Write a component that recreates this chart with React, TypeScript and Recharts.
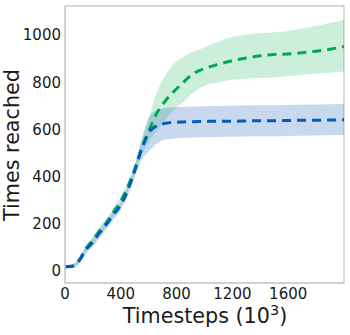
import { ComposedChart, Area, Line, XAxis, YAxis, Label } from 'recharts';

const steps = [0, 50, 100, 150, 200, 250, 300, 350, 400, 450, 500, 550, 600, 650, 700, 750, 800, 850, 900, 1000, 1100, 1200, 1300, 1400, 1500, 1600, 1700, 1800, 1900, 2000];

const blueMean = [15, 17, 40, 88, 120, 160, 198, 238, 278, 340, 424, 515, 585, 612, 622, 628, 630, 631, 632, 633, 634, 634, 635, 636, 636, 637, 638, 638, 639, 640];
const blueLow = [8, 10, 26, 70, 100, 140, 178, 218, 258, 318, 396, 470, 505, 535, 552, 558, 562, 564, 565, 566, 567, 568, 569, 570, 570, 571, 572, 573, 574, 575];
const blueHigh = [22, 24, 50, 100, 135, 175, 212, 252, 292, 358, 445, 560, 650, 678, 688, 692, 694, 695, 696, 698, 699, 700, 701, 702, 702, 703, 704, 705, 706, 708];

const greenMean = [15, 17, 42, 92, 128, 170, 205, 250, 295, 355, 430, 520, 590, 660, 705, 742, 772, 800, 828, 858, 876, 892, 903, 912, 918, 920, 925, 932, 940, 952];
const greenLow = [8, 10, 30, 78, 110, 152, 188, 232, 276, 336, 410, 495, 545, 590, 622, 660, 695, 715, 745, 785, 800, 810, 815, 818, 820, 826, 832, 836, 840, 845];
const greenHigh = [22, 24, 52, 106, 145, 188, 222, 268, 314, 374, 450, 548, 640, 745, 810, 858, 888, 908, 925, 948, 973, 992, 1002, 1008, 1012, 1018, 1028, 1040, 1052, 1066];

const xTicks = [0, 400, 800, 1200, 1600];
const yTicks = [0, 200, 400, 600, 800, 1000];

const data = steps.map((t, i) => ({
  t,
  blue: blueMean[i],
  blueBand: [blueLow[i], blueHigh[i]],
  green: greenMean[i],
  greenBand: [greenLow[i], greenHigh[i]],
}));

const FONT = 'DejaVu Sans';
const TEXT = '#1a1a1a';

export default function App() {
  return (
    <div style={{ position: 'absolute', left: 0, top: 0, background: '#fff' }}>
      <ComposedChart width={350} height={335} data={data} margin={{ top: 6, right: 6, left: 0, bottom: 0 }}>
        <rect x={65} y={6} width={279} height={277} fill="none" stroke="#cccccc" strokeWidth={1.5} />
        <XAxis
          dataKey="t"
          type="number"
          domain={[0, 2000]}
          ticks={xTicks}
          allowDataOverflow
          height={52}
          axisLine={{ stroke: '#cccccc', strokeWidth: 1.5 }}
          tickLine={false}
          tickSize={2}
          tickMargin={3}
          tick={{ fontFamily: FONT, fontSize: 15, fill: TEXT }}
        >
          <Label
            content={() => (
              <text x={205} y={323} textAnchor="middle" fontFamily={FONT} fontSize={20.7} fill={TEXT}>
                Timesteps (10
                <tspan dy={-8} fontSize={14.5}>3</tspan>
                <tspan dy={8}>)</tspan>
              </text>
            )}
          />
        </XAxis>
        <YAxis
          type="number"
          domain={[-54, 1124]}
          ticks={yTicks}
          allowDataOverflow
          width={65}
          axisLine={{ stroke: '#cccccc', strokeWidth: 1.5 }}
          tickLine={false}
          tickSize={2}
          tickMargin={2}
          tick={{ fontFamily: FONT, fontSize: 15, fill: TEXT }}
        >
          <Label
            content={() => (
              <text
                x={19}
                y={145}
                textAnchor="middle"
                transform="rotate(-90 19 145)"
                fontFamily={FONT}
                fontSize={20.7}
                fill={TEXT}
              >
                Times reached
              </text>
            )}
          />
        </YAxis>
        <Area dataKey="greenBand" type="monotone" stroke="none" fill="#00b050" fillOpacity={0.2} isAnimationActive={false} />
        <Area dataKey="blueBand" type="monotone" stroke="none" fill="#1f62c0" fillOpacity={0.25} isAnimationActive={false} />
        <Line dataKey="green" type="monotone" stroke="#00a852" strokeWidth={3} strokeDasharray="9 6" dot={false} isAnimationActive={false} />
        <Line dataKey="blue" type="monotone" stroke="#005cbd" strokeWidth={3} strokeDasharray="9 6" dot={false} isAnimationActive={false} />
      </ComposedChart>
    </div>
  );
}
